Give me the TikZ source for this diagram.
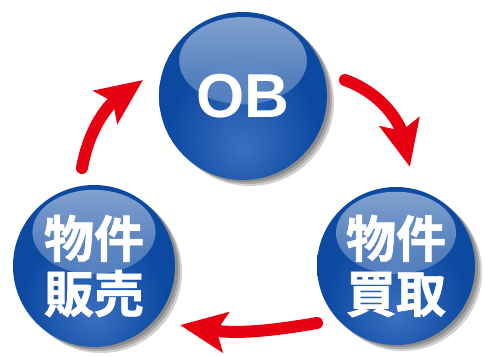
\documentclass[tikz,border=0pt]{standalone}
\usepackage{fontspec}
\setmainfont{Liberation Sans}
\newfontfamily\cjk{Noto Sans CJK JP}[BoldFont={Noto Sans CJK JP Bold}, BoldFeatures={FakeBold=1.3}]
\usetikzlibrary{calc,arrows.meta,fadings,shadings}
\definecolor{bglow}{RGB}{60,112,192}
\definecolor{bmid}{RGB}{12,74,162}
\definecolor{bedge}{RGB}{6,52,132}
\definecolor{arrowred}{RGB}{230,0,18}
\pgfdeclareradialshading{ball}{\pgfpoint{0bp}{-16bp}}{color(0bp)=(bglow); color(22bp)=(bmid); color(36bp)=(bmid); color(46bp)=(bedge); color(70bp)=(bedge)}
\tikzfading[name=hl, top color=transparent!50, bottom color=transparent!100]
\tikzset{
  ball/.style={circle, inner sep=0pt, minimum size=2*#1, text=white, shade, shading=ball,
    preaction={fill=black, opacity=.18, transform canvas={shift={(3pt,-2pt)}}},
    preaction={fill=black, opacity=.18, transform canvas={shift={(5pt,-4pt)}}},
    preaction={fill=black, opacity=.18, transform canvas={shift={(7pt,-6pt)}}},
    path picture={
      \fill[white, path fading=hl] ([yshift=0.42*#1]path picture bounding box.center)
        ellipse [x radius=0.76*#1, y radius=0.52*#1];
    }},
  latin/.style={font=\bfseries\fontsize{62}{62}\selectfont},
  kanji/.style={font=\cjk\bfseries\fontsize{50}{55}\selectfont, align=center},
  redarrow/.style={draw=arrowred, line width=12pt, line cap=round,
    -{Stealth[length=46pt, width=40pt, inset=9pt]}},
}
\begin{document}
\begin{tikzpicture}[x=1pt,y=1pt]
\useasboundingbox (0,0) rectangle (485,356);
\node[ball=84, latin] (ob) at (243,260) {OB};
\node[ball=81, kanji] (sell) at (94,90) {物件\\販売};
\node[ball=79, kanji] (buy) at (396,90) {物件\\買取};
\coordinate (t1) at ($(sell.center)+(97:98.7)$);
\coordinate (h1) at ($(ob.center)+(170.9:101.3)$);
\coordinate (t2) at ($(ob.center)+(8.9:103.2)$);
\coordinate (h2) at ($(buy.center)+(82:100)$);
\coordinate (t3) at ($(buy.center)+(215.8:97.4)$);
\coordinate (h3) at ($(sell.center)+(-34.5:104.3)$);
\draw[redarrow] (t1) to[out=80, in=216] (h1);
\draw[redarrow] (t2) to[out=-20, in=103] (h2);
\draw[redarrow] (t3) to[out=190, in=-9] (h3);
\end{tikzpicture}
\end{document}
